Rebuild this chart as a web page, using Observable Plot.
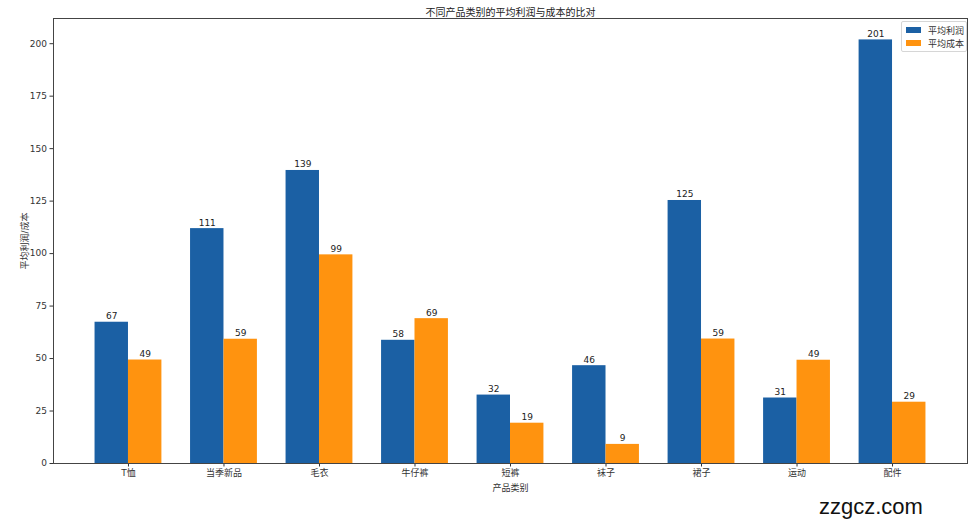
<!DOCTYPE html>
<html>
<head>
<meta charset="utf-8">
<script src="https://cdn.jsdelivr.net/npm/d3@7"></script>
<script src="https://cdn.jsdelivr.net/npm/@observablehq/plot@0.6"></script>
<style>
  body { margin: 0; background: #fff; }
  #wrap { position: relative; width: 975px; height: 521px; font-family: "DejaVu Sans", "Noto Sans CJK SC", sans-serif; }
  #legend { position: absolute; left: 901px; top: 21px; width: 64px; height: 29px; border: 1px solid #d6d6d6; border-radius: 2px; background: #fff; font-size: 9px; color: #333; }
  .li { position: absolute; left: 4px; height: 10px; display: flex; align-items: center; }
  .sw { width: 15px; height: 6px; margin-right: 7px; }
  #wm { position: absolute; left: 819px; top: 494px; font-family: "Liberation Sans", Arial, sans-serif; font-size: 22px; color: #111; }
</style>
</head>
<body>
<div id="wrap"></div>
<script>
const categories = ["T恤", "当季新品", "毛衣", "牛仔裤", "短裤", "袜子", "裙子", "运动", "配件"];
const avgProfit = [67.3, 111.9, 139.6, 58.7, 32.6, 46.6, 125.3, 31.2, 201.8];
const avgCost = [49.3, 59.2, 99.4, 69.0, 19.2, 9.1, 59.3, 49.2, 29.2];
const seriesNames = ["平均利润", "平均成本"];
const colors = ["#1b60a4", "#ff930f"];
const yTicks = [0, 25, 50, 75, 100, 125, 150, 175, 200];
const title = "不同产品类别的平均利润与成本的比对";

const W = 975, H = 521, mL = 53, mR = 8, mT = 18, mB = 58;
const padIn = 0.3, padOut = 0.435;
const step = (W - mL - mR) / (categories.length - padIn + 2 * padOut);
const half = step * (1 - padIn) / 2;

const profitData = categories.map((c, i) => ({cat: c, v: avgProfit[i], s: seriesNames[0]}));
const costData = categories.map((c, i) => ({cat: c, v: avgCost[i], s: seriesNames[1]}));

const chart = Plot.plot({
  width: W, height: H,
  marginLeft: mL, marginRight: mR, marginTop: mT, marginBottom: mB,
  style: {fontSize: "9px", fontFamily: "'DejaVu Sans', 'Noto Sans CJK SC', sans-serif", color: "#333", background: "#fff"},
  x: {type: "band", domain: categories, paddingInner: padIn, paddingOuter: padOut, align: 0.5, round: false,
      label: "产品类别", labelAnchor: "center", labelOffset: 27, tickSize: 3.5, tickPadding: 3, labelArrow: false},
  y: {domain: [0, 212], ticks: yTicks, tickFormat: d3.format("d"), tickSize: 3.5, tickPadding: 3,
      label: "平均利润/成本", labelAnchor: "center", labelOffset: 32, labelArrow: false},
  color: {domain: seriesNames, range: colors},
  marks: [
    Plot.barY(profitData, {x: "cat", y: "v", fill: "s", insetRight: half, insetLeft: 0}),
    Plot.barY(costData, {x: "cat", y: "v", fill: "s", insetLeft: half, insetRight: 0}),
    Plot.text(profitData, {x: "cat", y: "v", text: d => String(Math.floor(d.v)), dx: -half / 2, dy: -6, fill: "#222"}),
    Plot.text(costData, {x: "cat", y: "v", text: d => String(Math.floor(d.v)), dx: half / 2, dy: -6, fill: "#222"}),
    Plot.text([title], {frameAnchor: "top", dy: -10, fontSize: 10, fill: "#222"}),
    Plot.frame({stroke: "#444", strokeWidth: 1})
  ]
});
const wrap = document.getElementById("wrap");
wrap.appendChild(chart);

const legend = document.createElement("div");
legend.id = "legend";
seriesNames.forEach((n, i) => {
  const li = document.createElement("div");
  li.className = "li";
  li.style.top = (3 + i * 13) + "px";
  const sw = document.createElement("div");
  sw.className = "sw";
  sw.style.background = colors[i];
  li.appendChild(sw);
  const t = document.createElement("span");
  t.textContent = n;
  li.appendChild(t);
  legend.appendChild(li);
});
wrap.appendChild(legend);

const wm = document.createElement("div");
wm.id = "wm";
wm.textContent = "zzgcz.com";
wrap.appendChild(wm);
</script>
</body>
</html>
